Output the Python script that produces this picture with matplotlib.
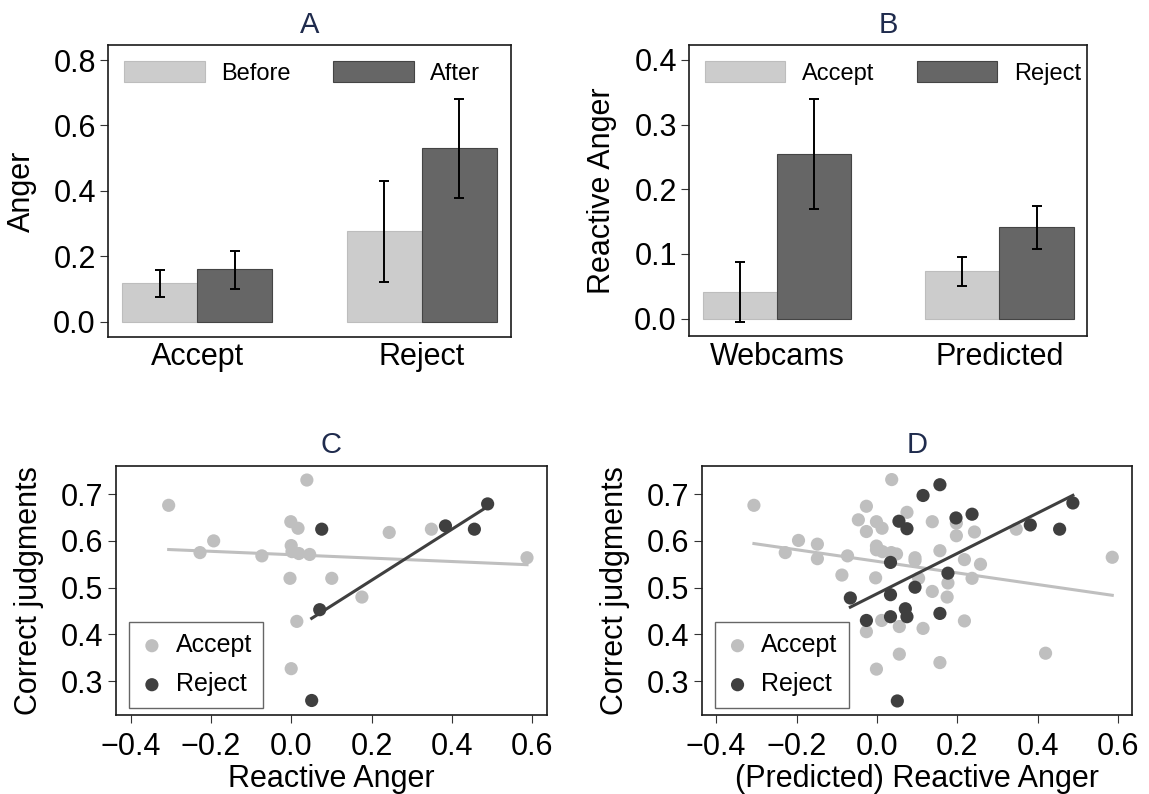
import numpy as np
import matplotlib
matplotlib.use("Agg")
import matplotlib.pyplot as plt

plt.rcParams["font.family"] = ["Liberation Sans", "DejaVu Sans"]

LIGHT = "#cccccc"
DARK = "#666666"
DOT_LIGHT = "#bfbfbf"
DOT_DARK = "#3f3f3f"
TITLE_COLOR = "#1f2b4d"

# panel A: anger before / after the offer
a_groups = ["Accept", "Reject"]
a_before = [0.117, 0.277]
a_before_lo = [0.076, 0.122]
a_before_hi = [0.158, 0.430]
a_after = [0.160, 0.532]
a_after_lo = [0.100, 0.379]
a_after_hi = [0.217, 0.680]

# panel B: reactive anger, webcams vs predicted
b_groups = ["Webcams", "Predicted"]
b_accept = [0.041, 0.073]
b_accept_lo = [-0.005, 0.050]
b_accept_hi = [0.087, 0.095]
b_reject = [0.254, 0.141]
b_reject_lo = [0.169, 0.107]
b_reject_hi = [0.339, 0.174]

# panel C: webcam reactive anger vs correct judgments
c_acc_x = [-0.305, 0.039, -0.193, -0.227, -0.073, -0.001, 0.017, 0.000, 0.002,
           0.019, 0.046, -0.003, 0.101, 0.176, 0.014, 0.000, 0.244, 0.349, 0.587]
c_acc_y = [0.676, 0.730, 0.600, 0.575, 0.568, 0.641, 0.627, 0.590, 0.577,
           0.573, 0.571, 0.520, 0.520, 0.480, 0.428, 0.327, 0.618, 0.625, 0.564]
c_rej_x = [0.076, 0.071, 0.051, 0.384, 0.456, 0.489]
c_rej_y = [0.625, 0.453, 0.259, 0.632, 0.625, 0.679]

# panel D: predicted reactive anger vs correct judgments
d_acc_x = [-0.306, 0.037, -0.026, 0.075, -0.046, -0.001, 0.013, -0.026, 0.138,
           -0.195, -0.148, -0.228, -0.148, -0.073, -0.001, -0.001, 0.014, 0.036,
           0.049, 0.095, 0.095, 0.104, -0.087, -0.003, 0.138, 0.012, -0.026,
           0.056, 0.115, 0.056, -0.001, 0.198, 0.198, 0.243, 0.347, 0.157,
           0.218, 0.258, 0.237, 0.177, 0.175, 0.218, 0.157, 0.420, 0.586]
d_acc_y = [0.676, 0.731, 0.674, 0.661, 0.645, 0.641, 0.627, 0.620, 0.641,
           0.601, 0.593, 0.575, 0.562, 0.568, 0.589, 0.581, 0.577, 0.575,
           0.572, 0.564, 0.558, 0.520, 0.527, 0.521, 0.492, 0.430, 0.406,
           0.417, 0.413, 0.358, 0.326, 0.638, 0.611, 0.619, 0.625, 0.579,
           0.560, 0.550, 0.520, 0.510, 0.480, 0.429, 0.340, 0.360, 0.565]
d_rej_x = [0.115, 0.157, 0.055, 0.075, 0.197, 0.237, 0.034, 0.177, 0.095, -0.066,
           0.034, -0.026, 0.034, 0.071, 0.075, 0.157, 0.051, 0.382, 0.455, 0.488]
d_rej_y = [0.697, 0.720, 0.642, 0.626, 0.649, 0.657, 0.554, 0.531, 0.501, 0.478,
           0.485, 0.430, 0.438, 0.455, 0.438, 0.445, 0.258, 0.634, 0.625, 0.681]


def style_axes(ax):
    for s in ax.spines.values():
        s.set_linewidth(1.2)
        s.set_color("#1a1a1a")
    ax.tick_params(axis="both", labelsize=22, direction="out", length=6,
                   width=0.8, color="#333333", pad=3)


def bar_panel(ax, groups, v1, lo1, hi1, v2, lo2, hi2, labels, title, ylabel,
              ylim, yticks):
    x = np.arange(len(groups))
    w = 1 / 3
    ax.bar(x - w / 2, v1, w, color=LIGHT, edgecolor="#bdbdbd", linewidth=0.8,
           label=labels[0])
    ax.bar(x + w / 2, v2, w, color=DARK, edgecolor="#444444", linewidth=0.8,
           label=labels[1])
    for off, v, lo, hi in [(-w / 2, v1, lo1, hi1), (w / 2, v2, lo2, hi2)]:
        v = np.array(v)
        err = [v - np.array(lo), np.array(hi) - v]
        ax.errorbar(x + off, v, yerr=err, fmt="none", ecolor="black",
                    elinewidth=1.4, capsize=3.5, capthick=1.4)
    ax.set_xlim(-0.395, len(groups) - 1 + 0.395)
    ax.set_ylim(*ylim)
    ax.set_yticks(yticks)
    ax.set_yticklabels([f"{t:.1f}" for t in yticks])
    ax.set_xticks(x)
    ax.set_xticklabels(groups)
    style_axes(ax)
    ax.tick_params(axis="x", length=0, pad=4)
    ax.set_title(title, fontsize=21, color=TITLE_COLOR, pad=9)
    ax.set_ylabel(ylabel, fontsize=22, labelpad=12)
    ax.legend(loc="upper left", bbox_to_anchor=(0.04, 0.945), ncol=2,
              frameon=False, fontsize=17, handlelength=3.4, handleheight=1.0,
              handletextpad=0.7, columnspacing=1.8, borderpad=0,
              borderaxespad=0)


def scatter_panel(ax, ax_x, ax_y, rx, ry, title, xlabel):
    ax.scatter(ax_x, ax_y, s=90, color=DOT_LIGHT, edgecolors="none",
               label="Accept", zorder=2)
    for xs, ys, col, z in [(ax_x, ax_y, DOT_LIGHT, 3), (rx, ry, DOT_DARK, 5)]:
        k, b = np.polyfit(xs, ys, 1)
        xx = np.array([min(xs), max(xs)])
        ax.plot(xx, k * xx + b, color=col, linewidth=2.2, zorder=z)
    ax.scatter(rx, ry, s=90, color=DOT_DARK, edgecolors="none",
               label="Reject", zorder=4)
    ax.set_xlim(-0.436, 0.636)
    ax.set_ylim(0.228, 0.760)
    ax.set_xticks([-0.4, -0.2, 0.0, 0.2, 0.4, 0.6])
    ax.set_yticks([0.3, 0.4, 0.5, 0.6, 0.7])
    ax.set_xticklabels(["\u22120.4", "\u22120.2", "0.0", "0.2", "0.4", "0.6"])
    ax.set_yticklabels(["0.3", "0.4", "0.5", "0.6", "0.7"])
    style_axes(ax)
    ax.tick_params(axis="x", pad=6)
    ax.set_title(title, fontsize=21, color=TITLE_COLOR, pad=9)
    ax.set_xlabel(xlabel, fontsize=22, labelpad=2)
    ax.set_ylabel("Correct judgments", fontsize=22, labelpad=12)
    leg = ax.legend(loc="lower left", bbox_to_anchor=(0.031, 0.03),
                    fontsize=18, frameon=True, fancybox=False,
                    borderaxespad=0, handletextpad=0.5, borderpad=0.45,
                    labelspacing=0.6, markerscale=1.0, handlelength=0.9)
    leg.get_frame().set_edgecolor("#404040")
    leg.get_frame().set_linewidth(1.0)


fig = plt.figure(figsize=(11.49, 7.94), dpi=100)
ax_a = fig.add_axes([0.0943, 0.5759, 0.3502, 0.3674])
ax_b = fig.add_axes([0.5999, 0.5768, 0.3464, 0.3665])
ax_c = fig.add_axes([0.1010, 0.0995, 0.3748, 0.3136])
ax_d = fig.add_axes([0.6107, 0.0995, 0.3748, 0.3136])

bar_panel(ax_a, a_groups, a_before, a_before_lo, a_before_hi,
          a_after, a_after_lo, a_after_hi, ["Before", "After"], "A", "Anger",
          (-0.046, 0.846), [0.0, 0.2, 0.4, 0.6, 0.8])
bar_panel(ax_b, b_groups, b_accept, b_accept_lo, b_accept_hi,
          b_reject, b_reject_lo, b_reject_hi, ["Accept", "Reject"], "B",
          "Reactive Anger", (-0.027, 0.423), [0.0, 0.1, 0.2, 0.3, 0.4])
scatter_panel(ax_c, c_acc_x, c_acc_y, c_rej_x, c_rej_y, "C", "Reactive Anger")
scatter_panel(ax_d, d_acc_x, d_acc_y, d_rej_x, d_rej_y, "D",
              "(Predicted) Reactive Anger")

fig.savefig("out.png", dpi=100)
